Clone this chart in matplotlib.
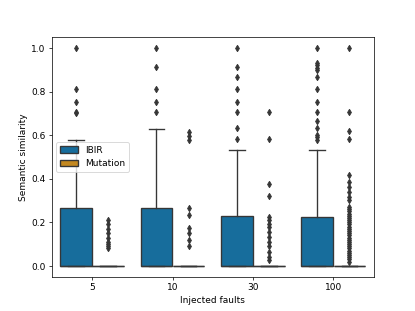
import numpy as np
import matplotlib
matplotlib.use("Agg")
import matplotlib.pyplot as plt
from matplotlib.patches import Patch
import seaborn as sns

groups = ["5", "10", "30", "100"]
hues = ["IBIR", "Mutation"]

# IBIR box statistics
ibir_q1 = [0.0, 0.0, 0.0, 0.0]
ibir_med = [0.0, 0.0, 0.0, 0.0]
ibir_q3 = [0.267, 0.267, 0.229, 0.222]
ibir_whislo = [0.0, 0.0, 0.0, 0.0]
ibir_whishi = [0.578, 0.630, 0.534, 0.534]
ibir_fliers = [
    [1.0, 0.812, 0.754, 0.708, 0.700],
    [1.0, 0.911, 0.812, 0.754, 0.706],
    [1.0, 0.914, 0.865, 0.812, 0.754, 0.708, 0.632, 0.580],
    [1.0, 0.93, 0.92, 0.91, 0.90, 0.865, 0.812, 0.754, 0.708, 0.667,
     0.632, 0.60, 0.59, 0.578],
]

# Mutation: all quartiles at 0, every non-zero value is an outlier
mut_q1 = [0.0, 0.0, 0.0, 0.0]
mut_med = [0.0, 0.0, 0.0, 0.0]
mut_q3 = [0.0, 0.0, 0.0, 0.0]
mut_whislo = [0.0, 0.0, 0.0, 0.0]
mut_whishi = [0.0, 0.0, 0.0, 0.0]
mut_fliers = [
    [0.212, 0.19, 0.167, 0.15, 0.13, 0.11, 0.10, 0.09, 0.08],
    [0.614, 0.598, 0.576, 0.267, 0.232, 0.176, 0.15, 0.118, 0.09],
    [0.708, 0.580, 0.377, 0.322, 0.224, 0.209, 0.194, 0.179, 0.156,
     0.133, 0.11, 0.09, 0.064, 0.041, 0.026],
    [1.0, 0.708, 0.618, 0.580, 0.415, 0.384, 0.362, 0.339, 0.316, 0.30,
     0.27, 0.26, 0.25, 0.24, 0.23, 0.22, 0.21, 0.20, 0.19, 0.18, 0.17,
     0.16, 0.15, 0.14, 0.13, 0.12, 0.11, 0.10, 0.09, 0.08, 0.07, 0.06,
     0.05, 0.04, 0.03, 0.02],
]


def make_stats(q1, med, q3, lo, hi, fl):
    return [dict(q1=a, med=b, q3=c, whislo=d, whishi=e, fliers=f)
            for a, b, c, d, e, f in zip(q1, med, q3, lo, hi, fl)]


stats = [
    make_stats(ibir_q1, ibir_med, ibir_q3, ibir_whislo, ibir_whishi, ibir_fliers),
    make_stats(mut_q1, mut_med, mut_q3, mut_whislo, mut_whishi, mut_fliers),
]

pal = sns.color_palette("colorblind", 2)
colors = [sns.desaturate(c, 0.75) for c in pal]
gray = "#363636"

fig, ax = plt.subplots(figsize=(6.4, 4.8), dpi=64.85)
x = np.arange(len(groups))
offsets = [-0.2, 0.2]
width = 0.4 * 0.98

for j in range(len(hues)):
    ax.bxp(stats[j], positions=x + offsets[j], widths=width,
           patch_artist=True, manage_ticks=False,
           boxprops=dict(facecolor=colors[j], edgecolor=gray, linewidth=1.5),
           medianprops=dict(color=gray, linewidth=1.5),
           whiskerprops=dict(color=gray, linewidth=1.5),
           capprops=dict(color=gray, linewidth=1.5),
           flierprops=dict(marker="d", markersize=5, markerfacecolor=gray,
                           markeredgecolor=gray, linestyle="none"))

ax.set_xticks(x)
ax.set_xticklabels(groups)
ax.set_xlim(-0.5, len(groups) - 0.5)
ax.set_xlabel("Injected faults")
ax.set_ylabel("Semantic similarity")

handles = [Patch(facecolor=colors[j], edgecolor=gray, linewidth=1.5, label=hues[j])
           for j in range(len(hues))]
ax.legend(handles=handles, loc="center left")

fig.savefig("out.png", dpi=64.85)
